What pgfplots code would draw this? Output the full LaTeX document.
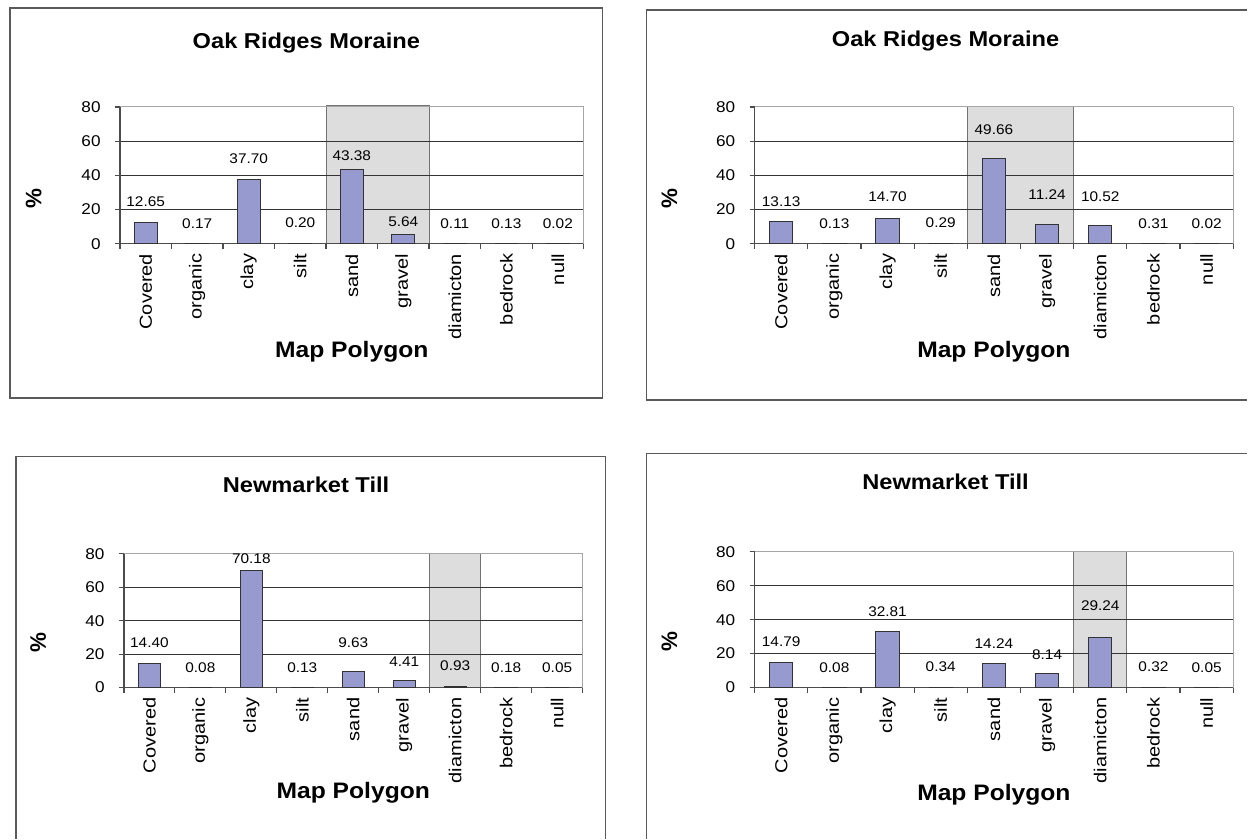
\documentclass[border=0pt]{standalone}
\usepackage{pgfplots}
\pgfplotsset{compat=1.18}
\usepackage{fontspec}
\setmainfont{Liberation Sans}

\definecolor{barblue}{RGB}{150,154,206}
\definecolor{bandgray}{RGB}{221,221,221}
\definecolor{framegray}{RGB}{90,90,90}

\newcommand\titlefont{\fontsize{10.75}{13}\selectfont\bfseries}
\newcommand\labfont{\fontsize{11.2}{13}\selectfont\bfseries}
\newcommand\tickfont{\fontsize{7.8}{10}\selectfont}
\newcommand\catfont{\fontsize{8.7}{10}\selectfont}
\newcommand\valfont{\fontsize{7}{9}\selectfont}
\newcommand\wide[1]{\scalebox{1.1}[1]{#1}}

\pgfplotsset{
  /pgf/number format/assume math mode=true,
  every axis title shift=0pt,
  panel/.style={
    scale only axis, set layers, clip=false,
    xmin=-0.5, xmax=8.5, ymin=0, ymax=80, enlargelimits=false,
    axis lines*=left,
    axis line style={draw=black!70, line width=0.6pt},
    tick align=outside, major tick length=2.5pt,
    tick style={draw=black!70, line width=0.6pt},
    xtick={-0.5,0.5,...,8.5}, x tick label as interval,
    xticklabels={Covered,organic,clay,silt,sand,gravel,diamicton,bedrock,null},
    xticklabel style={rotate=90, anchor=east, font=\catfont, xscale=1.15, inner sep=2pt},
    ytick={0,20,40,60},
    extra y ticks={80},
    extra y tick style={grid=major, grid style={draw=black!35, line width=0.5pt}},
    ymajorgrids, grid style={draw=black!80, line width=0.5pt},
    yticklabel={\wide{\pgfmathprintnumber{\tick}}},
    yticklabel style={font=\tickfont, inner sep=2pt, xshift=-5pt},
    xlabel={\wide{Map Polygon}}, ylabel={\%},
    xlabel style={at={(axis description cs:0.5,-0.83)}, anchor=base, font=\labfont},
    title style={anchor=base, font=\titlefont},
    ylabel style={anchor=center, font=\labfont},
  },
  % off = gap in pt between the bar top and the centre of its value label
  bars/.style={
    ybar, bar width=0.44, fill=barblue, draw=black!80, line width=0.5pt,
    visualization depends on={\thisrow{off} \as \off},
    nodes near coords={\wide{\pgfmathprintnumber[fixed,fixed zerofill,precision=2]{\pgfplotspointmeta}}},
    every node near coord/.append style={font=\valfont, anchor=center, yshift=\off pt, text=black},
  },
  band/.style={on layer=axis background, fill=bandgray, draw=black!55, line width=0.5pt, mark=none, sharp plot, forget plot},
}

\begin{document}
\begin{tikzpicture}
\path (0,0) rectangle (624pt,-419.5pt);
\draw[framegray, line width=0.75pt] (5pt,-4pt) rectangle (301.5pt,-199pt);
\draw[framegray, line width=0.75pt] (624pt,-5pt) -- (323.5pt,-5pt) -- (323.5pt,-200pt) -- (624pt,-200pt);
\draw[framegray, line width=0.75pt] (8pt,-419.5pt) -- (8pt,-228.5pt) -- (303pt,-228.5pt) -- (303pt,-419.5pt);
\draw[framegray, line width=0.75pt] (323.5pt,-419.5pt) -- (323.5pt,-227pt) -- (624pt,-227pt);

% top left
\begin{axis}[panel, at={(60pt,-122pt)}, anchor=south west, width=232pt, height=68.5pt,
  title={\wide{Oak Ridges Moraine}},
  title style={at={(axis description cs:0.402,1.428)}},
  ylabel style={at={(axis description cs:-0.186,0.33)}}]
\addplot[band] coordinates {(3.5,0) (3.5,81) (5.5,81) (5.5,0)};
\addplot[bars] table {
x y off
0 12.65 10.3
1 0.17 10.2
2 37.70 10.5
3 0.20 10.2
4 43.38 7
5 5.64 6.3
6 0.11 10.2
7 0.13 10.2
8 0.02 10.2
};
\draw[black!35, line width=0.5pt] (rel axis cs:1,0) -- (rel axis cs:1,1);
\end{axis}

% top right
\begin{axis}[panel, at={(377.5pt,-122pt)}, anchor=south west, width=239.5pt, height=68.5pt,
  title={\wide{Oak Ridges Moraine}},
  title style={at={(axis description cs:0.399,1.438)}},
  ylabel style={at={(axis description cs:-0.178,0.33)}}]
\addplot[band] coordinates {(3.5,0) (3.5,80) (5.5,80) (5.5,0)};
\addplot[bars] table {
x y off
0 13.13 10
1 0.13 10.2
2 14.70 11
3 0.29 10.1
4 49.66 14.5
5 11.24 14.9
6 10.52 14.5
7 0.31 10
8 0.02 10.2
};
\draw[black!35, line width=0.5pt] (rel axis cs:1,0) -- (rel axis cs:1,1);
\end{axis}

% bottom left
\begin{axis}[panel, at={(62pt,-344pt)}, anchor=south west, width=229.5pt, height=67pt,
  title={\wide{Newmarket Till}},
  title style={at={(axis description cs:0.397,1.455)}},
  ylabel style={at={(axis description cs:-0.187,0.336)}}]
\addplot[band] coordinates {(5.5,0) (5.5,80) (6.5,80) (6.5,0)};
\addplot[bars] table {
x y off
0 14.40 10.3
1 0.08 10.1
2 70.18 5.5
3 0.13 10
4 9.63 14.3
5 4.41 9.5
6 0.93 10.3
7 0.18 10
8 0.05 10
};
\draw[black!35, line width=0.5pt] (rel axis cs:1,0) -- (rel axis cs:1,1);
\end{axis}

% bottom right
\begin{axis}[panel, at={(377.5pt,-344pt)}, anchor=south west, width=239.5pt, height=68pt,
  title={\wide{Newmarket Till}},
  title style={at={(axis description cs:0.399,1.456)}},
  ylabel style={at={(axis description cs:-0.178,0.338)}}]
\addplot[band] coordinates {(5.5,0) (5.5,80) (6.5,80) (6.5,0)};
\addplot[bars] table {
x y off
0 14.79 10.6
1 0.08 10.1
2 32.81 10.2
3 0.34 10
4 14.24 9.9
5 8.14 9.6
6 29.24 16
7 0.32 10
8 0.05 10
};
\draw[black!35, line width=0.5pt] (rel axis cs:1,0) -- (rel axis cs:1,1);
\end{axis}
\end{tikzpicture}
\end{document}
